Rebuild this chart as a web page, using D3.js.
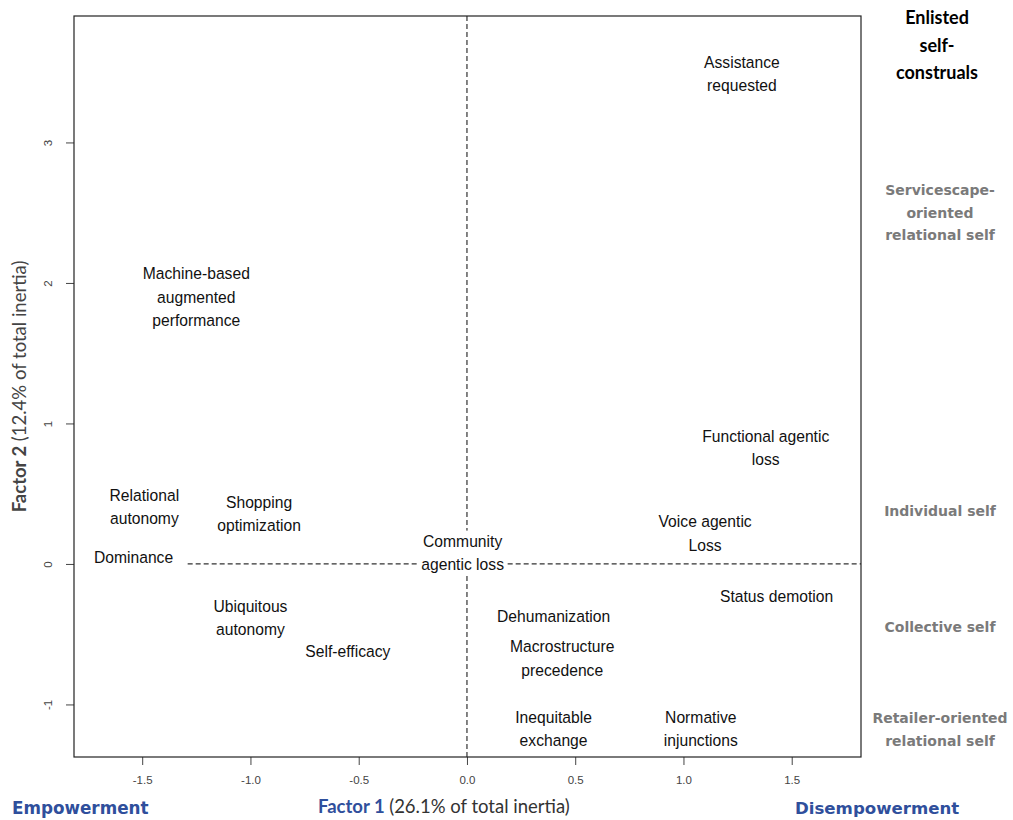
<!DOCTYPE html>
<html>
<head>
<meta charset="utf-8">
<script src="https://cdn.jsdelivr.net/npm/d3@7"></script>
<style>
  body { margin: 0; background: #fff; }
  svg { display: block; }
</style>
</head>
<body>
<svg id="chart" width="1013" height="820"></svg>
<script>
// category labels of the plot and their factor coordinates
const labels = [
  ["Assistance", "requested"],
  ["Machine-based", "augmented", "performance"],
  ["Functional agentic", "loss"],
  ["Relational", "autonomy"],
  ["Shopping", "optimization"],
  ["Voice agentic", "Loss"],
  ["Dominance"],
  ["Community", "agentic loss"],
  ["Status demotion"],
  ["Ubiquitous", "autonomy"],
  ["Self-efficacy"],
  ["Dehumanization"],
  ["Macrostructure", "precedence"],
  ["Inequitable", "exchange"],
  ["Normative", "injunctions"]
];
const factor1 = [1.27, -1.25, 1.38, -1.49, -0.96, 1.10, -1.54, -0.02, 1.43, -1.00, -0.55, 0.40, 0.44, 0.40, 1.08];
const factor2 = [3.49, 1.90, 0.83, 0.41, 0.36, 0.22, 0.05, 0.08, -0.23, -0.38, -0.62, -0.37, -0.67, -1.17, -1.17];

const xTicks = [-1.5, -1.0, -0.5, 0.0, 0.5, 1.0, 1.5];
const yTicks = [-1, 0, 1, 2, 3];

// right side self-construal labels (y in factor 2 units)
const selfTitle = ["Enlisted", "self-", "construals"];
const selfLabels = [
  ["Servicescape-", "oriented", "relational self"],
  ["Individual self"],
  ["Collective self"],
  ["Retailer-oriented", "relational self"]
];
const selfY = [2.5, 0.38, -0.45, -1.18];

const svg = d3.select("#chart");
const pLeft = 74, pRight = 861, pTop = 16, pBottom = 757;

const x = d3.scaleLinear().domain([-1.815, 1.82]).range([pLeft, pRight]);
const y = d3.scaleLinear().domain([-1.374, 3.9]).range([pBottom, pTop]);

const hyph = f => d => f(d).replace("\u2212", "-");

// axes, R style
const xAxis = d3.axisBottom(x).tickValues(xTicks).tickFormat(hyph(d3.format(".1f"))).tickSize(8).tickSizeOuter(0);
const gx = svg.append("g").attr("transform", `translate(0,${pBottom})`).call(xAxis);
gx.select(".domain").remove();
gx.selectAll("text").attr("x", 0).attr("y", 19).attr("dy", "0.71em")
  .attr("font-family", "Liberation Sans, Arial, sans-serif")
  .attr("font-size", 11.5).attr("fill", "#444");
gx.selectAll("line").attr("stroke", "#444");

const yAxis = d3.axisLeft(y).tickValues(yTicks).tickFormat(hyph(d3.format("d"))).tickSize(8).tickSizeOuter(0);
const gy = svg.append("g").attr("transform", `translate(${pLeft},0)`).call(yAxis);
gy.select(".domain").remove();
gy.selectAll("line").attr("stroke", "#444");
gy.selectAll("text")
  .attr("x", 0).attr("y", 0).attr("dy", "0.35em").attr("text-anchor", "middle")
  .attr("transform", "translate(-26,0) rotate(-90)")
  .attr("font-family", "Liberation Sans, Arial, sans-serif")
  .attr("font-size", 11.5).attr("fill", "#444");

// reference lines
svg.append("line")
  .attr("x1", x(0)).attr("x2", x(0)).attr("y1", pTop).attr("y2", pBottom)
  .attr("stroke", "#333").attr("stroke-width", 1.2).attr("stroke-dasharray", "5,3");
svg.append("line")
  .attr("x1", x(-1.29)).attr("x2", pRight).attr("y1", y(0)).attr("y2", y(0))
  .attr("stroke", "#333").attr("stroke-width", 1.2).attr("stroke-dasharray", "5,3");

// box
svg.append("rect")
  .attr("x", pLeft).attr("y", pTop).attr("width", pRight - pLeft).attr("height", pBottom - pTop)
  .attr("fill", "none").attr("stroke", "#222").attr("stroke-width", 1.2);

// point labels
const lineH = 23.5, sx = 0.95;
labels.forEach((lines, i) => {
  const cx = x(factor1[i]), cy = y(factor2[i]);
  const g = svg.append("g");
  const t = g.append("text")
    .attr("font-family", "Liberation Sans, Arial, sans-serif")
    .attr("font-size", 16.5).attr("fill", "#111").attr("text-anchor", "middle")
    .attr("transform", `scale(${sx},1)`);
  lines.forEach((l, j) => {
    t.append("tspan").attr("x", cx / sx)
      .attr("y", cy + (j - (lines.length - 1) / 2) * lineH + 6)
      .text(l);
  });
  const bb = t.node().getBBox();
  g.insert("rect", "text")
    .attr("x", bb.x * sx - 3).attr("y", bb.y - 1)
    .attr("width", bb.width * sx + 6).attr("height", bb.height + 2)
    .attr("fill", "#fff");
});

// axis titles
const midY = (pTop + pBottom) / 2;
const yt = svg.append("text")
  .attr("transform", `translate(26,${midY}) rotate(-90)`)
  .attr("text-anchor", "middle")
  .attr("font-family", "Lato, Open Sans, sans-serif").attr("font-size", 18.5).attr("fill", "#444");
yt.append("tspan").attr("font-weight", "bold").text("Factor 2 ");
yt.append("tspan").text("(12.4% of total inertia)");

const blue = "#2f4f9c";
const xt = svg.append("text")
  .attr("x", 318).attr("y", 813)
  .attr("font-family", "Lato, Open Sans, sans-serif").attr("font-size", 18.5);
xt.append("tspan").attr("font-weight", "bold").attr("fill", blue).text("Factor 1 ");
xt.append("tspan").attr("fill", "#333").text("(26.1% of total inertia)");

svg.append("text").attr("x", 12).attr("y", 814)
  .attr("font-family", "DejaVu Sans, sans-serif").attr("font-size", 16.8).attr("font-weight", "bold")
  .attr("fill", blue).text("Empowerment");
svg.append("text").attr("x", 795).attr("y", 814)
  .attr("font-family", "DejaVu Sans, sans-serif").attr("font-size", 16.6).attr("font-weight", "bold")
  .attr("fill", blue).text("Disempowerment");

// right side legend
const rx = 937;
const tt = svg.append("text").attr("text-anchor", "middle")
  .attr("font-family", "Lato, sans-serif").attr("font-size", 18).attr("font-weight", "bold").attr("fill", "#000");
selfTitle.forEach((l, j) => tt.append("tspan").attr("x", rx).attr("y", 24 + j * 27.5).text(l));

selfLabels.forEach((lines, i) => {
  const t = svg.append("text").attr("text-anchor", "middle")
    .attr("font-family", "DejaVu Sans, sans-serif").attr("font-size", 14).attr("font-weight", "bold").attr("fill", "#7a7a7a");
  lines.forEach((l, j) => {
    t.append("tspan").attr("x", rx + 3)
      .attr("y", y(selfY[i]) + (j - (lines.length - 1) / 2) * 22.5 + 5)
      .text(l);
  });
});
</script>
</body>
</html>
